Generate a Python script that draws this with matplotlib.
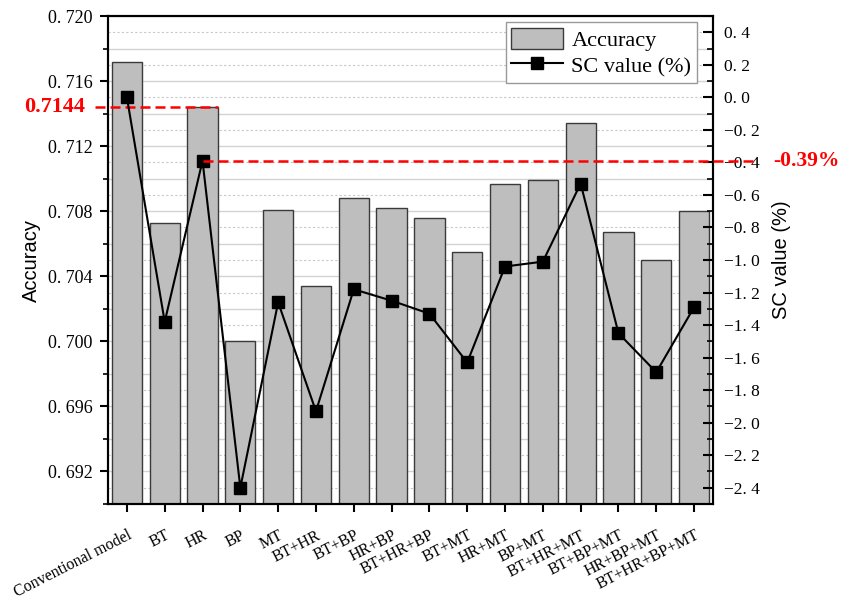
import numpy as np
import matplotlib.pyplot as plt
from matplotlib.ticker import MultipleLocator, FuncFormatter
from matplotlib.transforms import blended_transform_factory, ScaledTranslation

plt.rcParams['font.family'] = ['Liberation Serif', 'DejaVu Serif']

models = ['Conventional model', 'BT', 'HR', 'BP', 'MT', 'BT+HR', 'BT+BP', 'HR+BP',
          'BT+HR+BP', 'BT+MT', 'HR+MT', 'BP+MT', 'BT+HR+MT', 'BT+BP+MT',
          'HR+BP+MT', 'BT+HR+BP+MT']
accuracy = [0.7172, 0.7073, 0.7144, 0.7000, 0.7081, 0.7034, 0.7088, 0.7082,
            0.7076, 0.7055, 0.7097, 0.7099, 0.7134, 0.7067, 0.7050, 0.7080]
sc_value = [0.00, -1.38, -0.39, -2.40, -1.26, -1.93, -1.18, -1.25,
            -1.33, -1.63, -1.04, -1.01, -0.53, -1.45, -1.69, -1.29]

ref_acc = 0.7144
ref_sc = -0.39


def fmt_right(v, p):
    s = f"{round(v, 1) + 0.0:.1f}"
    if s == "-0.0":
        s = "0.0"
    return s.replace('.', '. ').replace('-', '\u2212')


fig = plt.figure(figsize=(8.41, 6.09), dpi=100)
ax = fig.add_axes([0.1284, 0.1724, 0.7194, 0.8013])
x = np.arange(len(models))

bars = ax.bar(x, accuracy, width=0.8, color='#BEBEBE', edgecolor='#3A3A3A',
              linewidth=1, zorder=2)
ax.set_xlim(-0.5, len(models) - 0.5)
ax.set_ylim(0.690, 0.720)
ax.yaxis.set_major_locator(MultipleLocator(0.004))
ax.yaxis.set_minor_locator(MultipleLocator(0.002))
ax.yaxis.set_major_formatter(FuncFormatter(lambda v, p: f"{v:.3f}".replace('.', '. ')))

# grid: solid at right-axis majors, dotted at right-axis minors
ax.set_axisbelow(True)
ax.grid(True, which='both', axis='y', color='#D3D3D3', lw=1)
for yv in np.arange(0.691, 0.7195, 0.002):
    ax.axhline(yv, color='#C8C8C8', lw=0.8, ls=(0, (2, 2)), zorder=0)

ax.tick_params(axis='y', which='major', direction='out', length=6, width=1.5,
               labelsize=13, pad=5)
ax.tick_params(axis='y', which='minor', direction='out', length=3.5, width=1.2)
ax.set_xticks(x)
ax.set_xticklabels(models, rotation=27, ha='right', va='center', rotation_mode='anchor',
                   fontsize=11.5)
ax.tick_params(axis='x', direction='out', length=6, width=1.5, pad=16)
shift = ScaledTranslation(4 / 100, 0, fig.dpi_scale_trans)
for lab in ax.get_xticklabels():
    lab.set_transform(lab.get_transform() + shift)
ax.set_ylabel('Accuracy', family='Liberation Sans', fontsize=14.5, labelpad=5)

ax2 = ax.twinx()
line, = ax2.plot(x, sc_value, color='black', lw=1.5, marker='s', ms=8, zorder=3)
ax2.set_ylim(-2.5, 0.5)
ax2.yaxis.set_major_locator(MultipleLocator(0.2))
ax2.yaxis.set_minor_locator(MultipleLocator(0.1))
ax2.yaxis.set_major_formatter(FuncFormatter(fmt_right))
ax2.tick_params(axis='y', which='major', direction='in', length=7, width=1.5,
                labelsize=12.5, pad=8)
ax2.tick_params(axis='y', which='minor', direction='in', length=4, width=1.2)
ax2.set_ylabel('SC value (%)', family='Liberation Sans', fontsize=14.5, labelpad=9)

for a in (ax, ax2):
    for s in a.spines.values():
        s.set_linewidth(1.5)

# red reference lines
ax.plot([-0.85, 2.4], [ref_acc, ref_acc], color='red', lw=1.8, ls=(0, (4, 2)),
        clip_on=False, zorder=5)
tr = blended_transform_factory(ax.transAxes, ax.transData)
ax.text(-0.038, ref_acc, f"{ref_acc}", transform=tr, color='red', fontsize=16,
        fontweight='bold', ha='right', va='center')
ax2.plot([2, 16.7], [ref_sc, ref_sc], color='red', lw=1.8, ls=(0, (4, 2)),
         clip_on=False, zorder=5)
tr2 = blended_transform_factory(ax2.transAxes, ax2.transData)
ax2.text(1.1, ref_sc, f"{ref_sc}%", transform=tr2, color='red', fontsize=15.5,
         fontweight='bold', ha='left', va='center')

leg = ax2.legend([bars, line], ['Accuracy', 'SC value (%)'], loc='upper right',
                 bbox_to_anchor=(0.9736, 0.9877), borderaxespad=0, fontsize=16,
                 fancybox=False, framealpha=1, edgecolor='#999999',
                 handlelength=2.3, handleheight=1.1, handletextpad=0.4,
                 borderpad=0.25, labelspacing=0.15)
leg.get_frame().set_linewidth(1)

fig.savefig('out.png', dpi=100)
